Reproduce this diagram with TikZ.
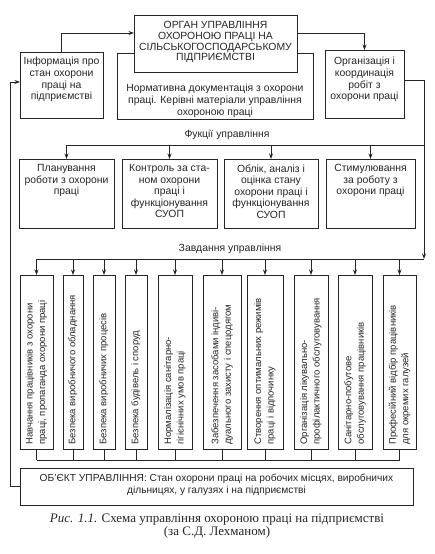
\documentclass[tikz,border=0pt]{standalone}
\usepackage{fontspec}
\setmainfont{Liberation Sans}
\newfontfamily\capfont{Liberation Serif}
\usetikzlibrary{arrows.meta}
\newcommand\mkbox[5]{\node[box, minimum width={#4-#2}, minimum height={#5-#3}] (#1) at ({(#2+#4)/2},{(#3+#5)/2}) {};}
\newcommand\fs{\fontsize{10.4}{11.6}\selectfont}
\newcommand\vfs{\fontsize{9.5}{12.5}\selectfont}
\begin{document}
\begin{tikzpicture}[x=1pt,y=-1pt, line width=0.8pt, draw=black!85,
  box/.style={draw, inner sep=0pt, outer sep=0pt, fill=white},
  txt/.style={inner sep=0pt, align=center, font=\fs, text=black!85},
  vtxt/.style={inner sep=0pt, align=left, font=\vfs, rotate=90, anchor=west, text=black!85},
  arr/.style={-{Stealth[length=5.5pt,width=4pt]}}]
\useasboundingbox (0,0) rectangle (434,554);
% top row
\mkbox{info}{20}{52}{103}{118}
\mkbox{norm}{117}{53}{313}{119}
\mkbox{top}{134}{15}{297}{72}
\mkbox{org}{325}{50}{404}{118}
\node[txt, font=\fontsize{10.4}{10.9}\selectfont] (topt) at (215.5,42) {ОРГАН УПРАВЛІННЯ\\ОХОРОНОЮ ПРАЦІ НА\\СІЛЬСЬКОГОСПОДАРСЬКОМУ\\ПІДПРИЄМСТВІ};
\node[txt, anchor=north] (infot) at (61.5,57) {Інформація про\\стан охорони\\праці на\\підприємстві};
\node[txt, anchor=north] (normt) at (215,84) {Нормативна документація з охорони\\праці. Керівні матеріали управління\\охороною праці};
\node[txt, anchor=north] (orgt) at (364.5,57) {Організація і\\координація\\робіт з\\охорони праці};
% coordinates
\coordinate (y33) at (0,33);
\coordinate (rc) at (424,80);
\coordinate (fbusR) at (424,145);
\coordinate (tbusR) at (424,259);
\coordinate (lt) at (10,82);
% functions
\node[txt] (flab) at (227,135) {Фукції управління};
\mkbox{f1}{19}{159}{114}{228}
\mkbox{f2}{122}{159}{217}{228}
\mkbox{f3}{224}{159}{318}{228}
\mkbox{f4}{326}{159}{415}{228}
\node[txt, anchor=north] (f1t) at (66.5,164) {Планування\\роботи з охорони\\праці};
\node[txt, anchor=north] (f2t) at (169.5,164) {Контроль за ста-\\ном охорони\\праці і\\функціонування\\СУОП};
\node[txt, anchor=north] (f3t) at (271,164) {Облік, аналіз і\\оцінка стану\\охорони праці і\\функціонування\\СУОП};
\node[txt, anchor=north] (f4t) at (370.5,164) {Стимулювання\\за роботу з\\охорони праці};
% tasks
\node[txt] (tlab) at (230,249) {Завдання управління};
\mkbox{t1}{20}{275}{53}{449}
\mkbox{t2}{63}{275}{83}{449}
\mkbox{t3}{93}{275}{115}{449}
\mkbox{t4}{125}{275}{147}{449}
\mkbox{t5}{158}{275}{192}{449}
\mkbox{t6}{203}{275}{241}{449}
\mkbox{t7}{247}{275}{283}{449}
\mkbox{t8}{294}{275}{328}{449}
\mkbox{t9}{338}{275}{372}{449}
\mkbox{t10}{383}{275}{416}{449}
\node[vtxt] (t1t) at ([yshift=4pt]t1.south) {Навчання працівників з охорони\\праці, пропаганда охорони праці};
\node[vtxt] (t2t) at ([yshift=4pt]t2.south) {Безпека виробничого обладнання};
\node[vtxt] (t3t) at ([yshift=4pt]t3.south) {Безпека виробничих процесів};
\node[vtxt] (t4t) at ([yshift=4pt]t4.south) {Безпека будівель і споруд};
\node[vtxt] (t5t) at ([yshift=4pt]t5.south) {Нормалізація санітарно-\\гігієнічних умов праці};
\node[vtxt] (t6t) at ([yshift=4pt]t6.south) {Забезпечення засобами індиві-\\дуального захисту і спецодягом};
\node[vtxt] (t7t) at ([yshift=4pt]t7.south) {Створення оптимальних режимів\\праці і відпочинку};
\node[vtxt] (t8t) at ([yshift=4pt]t8.south) {Організація лікувально-\\профілактичного обслуговування};
\node[vtxt] (t9t) at ([yshift=4pt]t9.south) {Санітарно-побутове\\обслуговування працівників};
\node[vtxt] (t10t) at ([yshift=4pt]t10.south) {Професійний відбір працівників\\для окремих галузей};
% object
\mkbox{obj}{20}{468}{413}{505}
\node[txt, font=\fontsize{10.2}{12}\selectfont] (objt) at (216.5,484.5) {ОБ’ЄКТ УПРАВЛІННЯ: Стан охорони праці на робочих місцях, виробничих\\дільницях, у галузях і на підприємстві};
% caption
\node[inner sep=0pt, align=center, font=\capfont\fontsize{13}{12.8}\selectfont, text=black!85] (cap) at (217,526) {\textit{Рис. 1.1.} Схема управління охороною праці на підприємстві\\(за С.Д. Лехманом)};
% connectors
\draw[arr] (info.north) |- (top.west |- y33);
\draw[arr] (top.east |- y33) -| (org.north);
\draw (org.east |- rc) -- (rc) -- (fbusR);
\draw[arr] (fbusR) -- (tbusR);
\draw (fbusR) -- (f1.north |- fbusR);
\foreach \n in {f1,f2,f3,f4} \draw[arr] (\n.north |- fbusR) -- (\n.north);
\draw (tbusR) -- (t1.north |- tbusR);
\foreach \n in {t1,t2,t3,t4,t5,t6,t7,t8,t9,t10} \draw[arr] (\n.north |- tbusR) -- (\n.north);
\coordinate (cbus) at (0,460);
\foreach \n in {t1,t2,t3,t4,t5,t6,t7,t8,t9,t10} \draw (\n.south) -- (\n.south |- cbus);
\draw (t1.south |- cbus) -- (t10.south |- cbus);
\draw[arr] (obj.west) -| (lt) -- (info.west |- lt);
\end{tikzpicture}
\end{document}
